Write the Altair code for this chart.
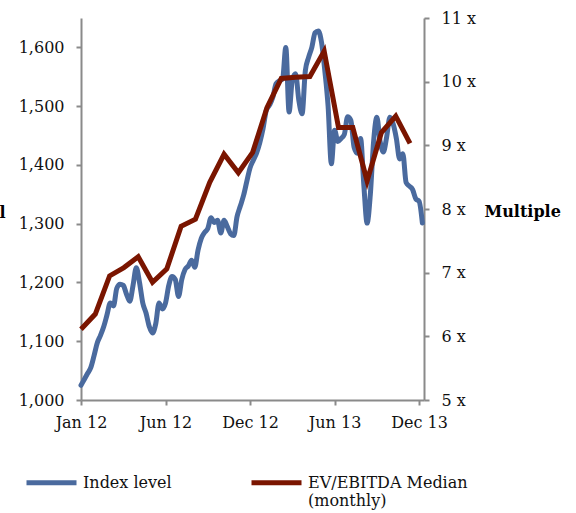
import altair as alt
import pandas as pd

# ---- data ----
weeks = list(range(106))
index_level = [
    1025, 1035, 1045, 1055, 1075, 1097, 1110, 1125, 1145, 1165,
    1160, 1190, 1197, 1195, 1180, 1168, 1195, 1225, 1200, 1165,
    1148, 1125, 1114, 1130, 1165, 1155, 1165, 1195, 1210, 1205,
    1176, 1205, 1222, 1228, 1238, 1226, 1255, 1275, 1285, 1292,
    1310, 1302, 1306, 1284, 1306, 1295, 1283, 1280, 1312, 1330,
    1348, 1372, 1395, 1408, 1420, 1438, 1462, 1493, 1502, 1515,
    1538, 1543, 1546, 1600, 1490, 1545, 1555, 1510, 1487, 1560,
    1583, 1600, 1625, 1628, 1608, 1560, 1500, 1402, 1459, 1440,
    1445, 1452, 1482, 1476, 1430, 1420, 1445, 1365, 1301, 1350,
    1440, 1481, 1440, 1422, 1447, 1481, 1470, 1445, 1410, 1419,
    1370, 1364, 1358, 1342, 1338, 1301,
]
months = list(range(24))
weeks_per_month = 4.4
ev_ebitda = [
    6.11, 6.35, 6.95, 7.08, 7.25, 6.85, 7.06, 7.73, 7.84, 8.42,
    8.86, 8.57, 8.89, 9.59, 10.05, 10.07, 10.08, 10.48, 9.28, 9.28,
    8.44, 9.20, 9.46, 9.03,
]
x_tick_pos = [0, 26, 52, 78, 104]
x_tick_labels = ["Jan 12", "Jun 12", "Dec 12", "Jun 13", "Dec 13"]
left_ticks = [1000, 1100, 1200, 1300, 1400, 1500, 1600]
right_ticks = [5, 6, 7, 8, 9, 10, 11]
series_names = ["Index level", "EV/EBITDA Median (monthly)"]
series_colors = ["#4A6A9E", "#7A1500"]

blue_df = pd.DataFrame({"period": weeks, "value": index_level, "series": series_names[0]})
red_df = pd.DataFrame({"period": [m * weeks_per_month for m in months],
                       "value": ev_ebitda, "series": series_names[1]})

FONT = "DejaVu Serif"
AX = "#8A8A8A"
label_expr = "[" + ",".join(f"'{l}'" for l in x_tick_labels) + "][round(datum.value/26)]"

x_enc = alt.X(
    "period:Q",
    scale=alt.Scale(domain=[0, 105.5], nice=False, zero=False),
    axis=alt.Axis(values=x_tick_pos, labelExpr=label_expr, title=None,
                  labelPadding=9, labelFlush=False),
)

color = alt.Color(
    "series:N",
    scale=alt.Scale(domain=series_names, range=series_colors),
    legend=alt.Legend(
        orient="none", legendX=-57, legendY=437, direction="horizontal",
        columns=2, title=None, symbolType="stroke", symbolSize=2500,
        symbolStrokeWidth=5, labelFont=FONT, labelFontSize=16, labelOffset=4,
        columnPadding=69, labelLimit=0, labelBaseline="middle", labelColor="#111",
        labelExpr="datum.label == 'EV/EBITDA Median (monthly)' ? ['EV/EBITDA Median', '(monthly)'] : [datum.label, ' ']",
    ),
)

blue = alt.Chart(blue_df).mark_line(
    strokeWidth=5, interpolate="monotone", strokeCap="round", strokeJoin="round"
).encode(
    x=x_enc,
    y=alt.Y(
        "value:Q",
        scale=alt.Scale(domain=[1000, 1650], nice=False, zero=False),
        axis=alt.Axis(values=left_ticks, format=",d", orient="left",
                      title="Index level", titleAngle=0, titleAlign="right",
                      titleBaseline="alphabetic", titleX=-76, titleY=199,
                      titleFont=FONT, titleFontSize=16, titleFontWeight="bold",
                      labelPadding=12),
    ),
    color=color,
)

red = alt.Chart(red_df).mark_line(
    strokeWidth=5, strokeJoin="miter"
).encode(
    x=x_enc,
    y=alt.Y(
        "value:Q",
        scale=alt.Scale(domain=[5, 11], nice=False, zero=False),
        axis=alt.Axis(values=right_ticks, labelExpr="datum.value + ' x'", orient="right",
                      title="Multiple", titleAngle=0, titleAlign="left",
                      titleBaseline="alphabetic", titleX=60, titleY=198,
                      titleFont=FONT, titleFontSize=16, titleFontWeight="bold",
                      labelPadding=12),
    ),
    color=color,
)

chart = alt.layer(blue, red).resolve_scale(y="independent").properties(
    width=343, height=382,
    autosize=alt.AutoSizeParams(type="none"),
    padding={"left": 81, "top": 18, "right": 152, "bottom": 113},
    background="white",
).configure_view(stroke=None).configure_axis(
    grid=False, domainColor=AX, domainWidth=2, tickColor=AX, tickWidth=2,
    tickSize=5, labelFont=FONT, labelFontSize=16, labelColor="#111",
    titleColor="#000",
)

chart.save("out.html", embed_options={"renderer": "svg", "actions": False})
